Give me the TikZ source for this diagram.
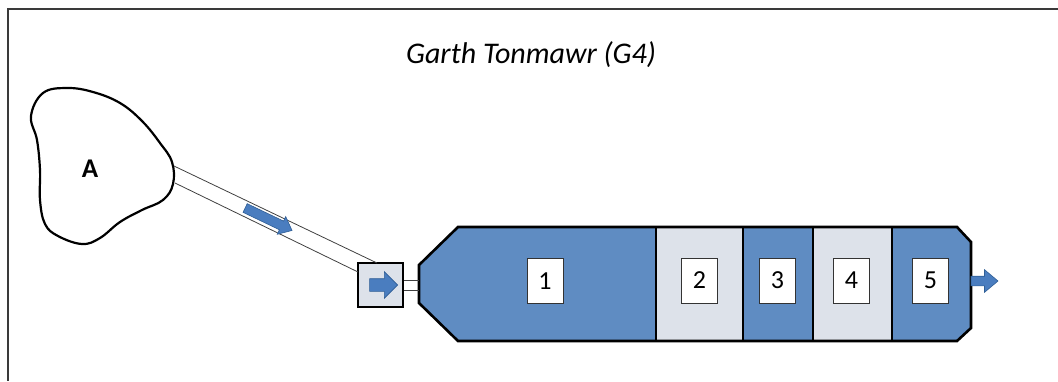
\documentclass[tikz,border=0pt]{standalone}
\usepackage{fontspec}
\setmainfont{Carlito}
\usetikzlibrary{shapes.arrows}
\definecolor{tankblue}{HTML}{5F8CC2}
\definecolor{arrowblue}{HTML}{4A7DBF}
\definecolor{arrowedge}{HTML}{2F5E96}
\definecolor{paleband}{HTML}{DDE2EA}
\definecolor{framegray}{HTML}{3A3A3A}
\tikzset{
  flowarrow/.style={shape=single arrow, fill=arrowblue, draw=arrowedge, line width=0.6pt,
    inner xsep=0pt, outer sep=0pt},
  cellbox/.style={draw=black!80, line width=1pt, fill=white, minimum width=36pt,
    minimum height=45pt, inner sep=0pt, font=\fontsize{26}{26}\selectfont},
  pipeline/.style={draw=black!75, line width=0.8pt},
  bandline/.style={draw=black, line width=2pt}
}
\begin{document}
\begin{tikzpicture}[x=1pt,y=-1pt]
\useasboundingbox (0,0) rectangle (1058,381);
% page frame (top and left edges)
\draw[framegray, line width=2pt] (1058,9) -- (8,9) -- (8,381);

% title
\node[anchor=base, font=\fontsize{30}{30}\selectfont\itshape] (title) at (531,63) {Garth Tonmawr (G4)};

% source area A
\draw[line width=2.2pt, fill=white] plot[smooth cycle, tension=0.65] coordinates {
  (43,93) (67,88) (93,92) (120,103) (142,121) (160,143) (172,162) (173,184)
  (163,200) (142,210) (120,222) (100,238) (82,244) (58,236) (45,224)
  (40,200) (40,170) (37,140) (31,116)};
\node[anchor=base, font=\fontsize{27}{27}\selectfont\bfseries] (A) at (90,177) {A};

% pipe from A to inlet chamber
\coordinate (pa1) at (174,166);
\coordinate (pa2) at (175,183);
\node[draw=black, line width=2pt, fill=paleband, minimum width=45pt, minimum height=44pt,
  inner sep=0pt] (inlet) at (380.5,285) {};
\coordinate (pb1) at (377,263);
\coordinate (pb2) at (358,272);
\draw[pipeline] (pa1) -- (pb1);
\draw[pipeline] (pa2) -- (pb2);
\node[flowarrow, minimum height=52pt, inner ysep=4.5pt, single arrow head extend=5pt,
  single arrow tip angle=80, rotate=-25.6] (pipeflow) at (266,218) {};

% arrow inside inlet chamber
\node[flowarrow, minimum height=28pt, inner ysep=6pt, single arrow head extend=7pt]
  (inletflow) at (inlet.center) {};

% main treatment tank sections
\coordinate (nose) at (419,285);
\fill[tankblue] (656,227) -- (458,227) -- (419,265) -- (419,303) -- (458,341) -- (656,341) -- cycle;
\fill[paleband] (656,227) rectangle (743,341);
\fill[tankblue] (743,227) rectangle (813,341);
\fill[paleband] (813,227) rectangle (892,341);
\fill[tankblue] (892,227) -- (957,227) -- (971,242) -- (971,328) -- (957,341) -- (892,341) -- cycle;
\draw[bandline] (656,227) -- (656,341);
\draw[bandline] (743,227) -- (743,341);
\draw[bandline] (813,227) -- (813,341);
\draw[bandline] (892,227) -- (892,341);
\draw[line width=2.6pt, line join=miter] (458,227) -- (957,227) -- (971,242) -- (971,328)
  -- (957,341) -- (458,341) -- (419,303) -- (419,265) -- cycle;

% short double link from inlet chamber to tank
\draw[pipeline, line width=1pt] ([yshift=-5pt]inlet.east) -- ([yshift=-5pt]nose);
\draw[pipeline, line width=1pt] ([yshift=5pt]inlet.east) -- ([yshift=5pt]nose);

% section labels
\node[cellbox] (s1) at (545,281) {1};
\node[cellbox] (s2) at (699.5,280.5) {2};
\node[cellbox] (s3) at (777.5,280.5) {3};
\node[cellbox] (s4) at (851.5,280.5) {4};
\node[cellbox] (s5) at (930.5,280.5) {5};

% outlet arrow
\coordinate (outlet) at (971,281);
\node[flowarrow, anchor=tail, minimum height=27pt, inner ysep=4.5pt,
  single arrow head extend=6.5pt, single arrow tip angle=80] (outflow) at (outlet) {};
\end{tikzpicture}
\end{document}
